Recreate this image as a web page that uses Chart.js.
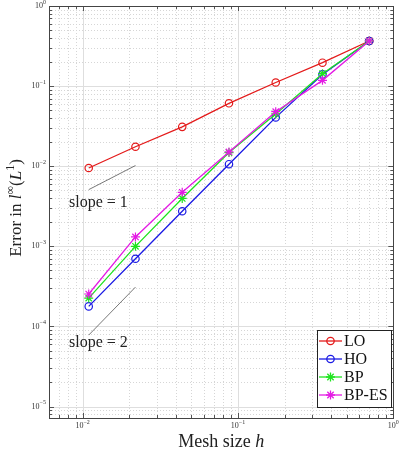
<!DOCTYPE html>
<html>
<head>
<meta charset="utf-8">
<script src="https://cdn.jsdelivr.net/npm/chart.js@4/dist/chart.umd.min.js"></script>
<style>
html,body{margin:0;padding:0;background:#fff;}
#wrap{width:399px;height:457px;}
</style>
</head>
<body>
<div id="wrap"><canvas id="errChart" width="399" height="457"></canvas></div>
<script>
const meshSize = [0.0109375, 0.021875, 0.04375, 0.0875, 0.175, 0.35, 0.7];
const errLO = [0.0095, 0.0175, 0.031, 0.061, 0.111, 0.196, 0.366];
const errHO = [1.78e-4, 7.0e-4, 2.74e-3, 0.0106, 0.0407, 0.14, 0.366];
const errBP = [2.26e-4, 1.0e-3, 3.96e-3, 0.0148, 0.045, 0.143, 0.366];
const errBPES = [2.54e-4, 1.31e-3, 4.73e-3, 0.0151, 0.048, 0.118, 0.366];

const slopeX = [0.0109375, 0.021875];
const slope1Y = [5.1e-3, 1.02e-2];
const slope2Y = [7.8e-5, 3.1e-4];

const xDecades = [-3, -2, -1, 0];
const yDecades = [-6, -5, -4, -3, -2, -1, 0];
const xTickExp = [-2, -1, 0];
const yTickExp = [-5, -4, -3, -2, -1, 0];

const serif = "'Liberation Serif', 'DejaVu Serif', serif";

function pts(xs, ys){
  return xs.map((x,i)=>({x:x, y:ys[i]}));
}

function drawStar(ctx, x, y, r){
  ctx.beginPath();
  for(let k=0;k<4;k++){
    const a = k*Math.PI/4;
    ctx.moveTo(x - r*Math.cos(a), y - r*Math.sin(a));
    ctx.lineTo(x + r*Math.cos(a), y + r*Math.sin(a));
  }
  ctx.stroke();
}

function drawPow(ctx, x, y, exp, align){
  // "10" with a raised exponent
  const base = "10";
  const sup = exp < 0 ? "\u2212" + (-exp) : String(exp);
  ctx.font = "8px " + serif;
  const wb = ctx.measureText(base).width;
  ctx.font = "6px " + serif;
  const ws = ctx.measureText(sup).width;
  let left = x;
  if(align==="right") left = x - wb - ws;
  if(align==="center") left = x - (wb+ws)/2;
  ctx.textAlign = "left";
  ctx.textBaseline = "middle";
  ctx.font = "8px " + serif;
  ctx.fillText(base, left, y);
  ctx.font = "6px " + serif;
  ctx.fillText(sup, left + wb, y - 4);
}

const series = [
  {label:"LO", data:errLO, color:"#e41b1b", style:"circle"},
  {label:"HO", data:errHO, color:"#1b1be4", style:"circle"},
  {label:"BP", data:errBP, color:"#1fe41f", style:"star"},
  {label:"BP-ES", data:errBPES, color:"#e41be4", style:"star"}
];

const gridPlugin = {
  id:"matlabGrid",
  beforeDraw(chart){
    const ctx = chart.ctx;
    ctx.save();
    ctx.fillStyle = "#fff";
    ctx.fillRect(0,0,chart.width,chart.height);
    ctx.restore();
  },
  beforeDatasetsDraw(chart){
    const {ctx, chartArea:a, scales:{x, y}} = chart;
    ctx.save();
    ctx.lineWidth = 1;
    // minor dotted
    ctx.strokeStyle = "#d6d6d6";
    ctx.setLineDash([1,2]);
    xDecades.forEach(d=>{
      for(let m=2;m<=9;m++){
        const px = Math.round(x.getPixelForValue(m*Math.pow(10,d))) + 0.5;
        if(px<=a.left||px>=a.right) continue;
        ctx.beginPath(); ctx.moveTo(px,a.top); ctx.lineTo(px,a.bottom); ctx.stroke();
      }
    });
    yDecades.forEach(d=>{
      for(let m=2;m<=9;m++){
        const py = Math.round(y.getPixelForValue(m*Math.pow(10,d))) + 0.5;
        if(py<=a.top||py>=a.bottom) continue;
        ctx.beginPath(); ctx.moveTo(a.left,py); ctx.lineTo(a.right,py); ctx.stroke();
      }
    });
    // major solid
    ctx.setLineDash([]);
    ctx.strokeStyle = "#dedede";
    xTickExp.forEach(d=>{
      const px = Math.round(x.getPixelForValue(Math.pow(10,d))) + 0.5;
      if(px<=a.left||px>=a.right) return;
      ctx.beginPath(); ctx.moveTo(px,a.top); ctx.lineTo(px,a.bottom); ctx.stroke();
    });
    yTickExp.forEach(d=>{
      const py = Math.round(y.getPixelForValue(Math.pow(10,d))) + 0.5;
      if(py<=a.top||py>=a.bottom) return;
      ctx.beginPath(); ctx.moveTo(a.left,py); ctx.lineTo(a.right,py); ctx.stroke();
    });
    ctx.restore();
  },
  afterDatasetsDraw(chart){
    const {ctx, chartArea:a, scales:{x, y}} = chart;
    ctx.save();
    // ticks inward on all sides
    ctx.strokeStyle = "#555";
    ctx.lineWidth = 1;
    xDecades.forEach(d=>{
      for(let m=1;m<=9;m++){
        const px = Math.round(x.getPixelForValue(m*Math.pow(10,d))) + 0.5;
        if(px<a.left||px>a.right) continue;
        const len = m===1 ? 5 : 3;
        ctx.beginPath();
        ctx.moveTo(px,a.bottom); ctx.lineTo(px,a.bottom-len);
        ctx.moveTo(px,a.top); ctx.lineTo(px,a.top+len);
        ctx.stroke();
      }
    });
    yDecades.forEach(d=>{
      for(let m=1;m<=9;m++){
        const py = Math.round(y.getPixelForValue(m*Math.pow(10,d))) + 0.5;
        if(py<a.top||py>a.bottom) continue;
        const len = m===1 ? 5 : 3;
        ctx.beginPath();
        ctx.moveTo(a.left,py); ctx.lineTo(a.left+len,py);
        ctx.moveTo(a.right,py); ctx.lineTo(a.right-len,py);
        ctx.stroke();
      }
    });
    // axes box
    ctx.strokeStyle = "#444";
    ctx.strokeRect(Math.round(a.left)+0.5, Math.round(a.top)+0.5, Math.round(a.right-a.left), Math.round(a.bottom-a.top));

    // tick labels
    ctx.fillStyle = "#333";
    xTickExp.forEach(d=>{
      drawPow(ctx, x.getPixelForValue(Math.pow(10,d)), a.bottom+8, d, "center");
    });
    yTickExp.forEach(d=>{
      drawPow(ctx, a.left-3, y.getPixelForValue(Math.pow(10,d)), d, "right");
    });

    // axis titles
    ctx.fillStyle = "#222";
    ctx.textBaseline = "alphabetic";
    const t1 = "Mesh size ";
    ctx.font = "18px " + serif;
    const w1 = ctx.measureText(t1).width;
    ctx.font = "italic 18px " + serif;
    const w2 = ctx.measureText("h").width;
    const cx = (a.left+a.right)/2;
    ctx.textAlign = "left";
    ctx.font = "18px " + serif;
    ctx.fillText(t1, cx-(w1+w2)/2, 447);
    ctx.font = "italic 18px " + serif;
    ctx.fillText("h", cx-(w1+w2)/2+w1, 447);

    // y title, rotated
    const parts = [
      {t:"Error in ", f:"17px ", dy:0},
      {t:"l", f:"italic 17px ", dy:0},
      {t:"\u221e", f:"12px ", dy:-7},
      {t:"(", f:"17px ", dy:0},
      {t:"L", f:"italic 17px ", dy:0},
      {t:"1", f:"12px ", dy:-7},
      {t:")", f:"17px ", dy:0}
    ];
    let total = 0;
    parts.forEach(p=>{ ctx.font = p.f + serif; p.w = ctx.measureText(p.t).width; total += p.w; });
    ctx.translate(21, 208);
    ctx.rotate(-Math.PI/2);
    let px0 = -total/2;
    parts.forEach(p=>{
      ctx.font = p.f + serif;
      ctx.fillText(p.t, px0, p.dy);
      px0 += p.w;
    });
    ctx.setTransform(1,0,0,1,0,0);

    // slope labels
    ctx.font = "16px " + serif;
    ctx.textAlign = "left";
    ctx.textBaseline = "middle";
    ctx.fillText("slope = 1", 69, 203);
    ctx.fillText("slope = 2", 69, 343);

    // legend box
    const lx = 317, ly = 330, lw = 74, lh = 77;
    ctx.fillStyle = "#fff";
    ctx.fillRect(lx, ly, lw, lh);
    ctx.strokeStyle = "#222";
    ctx.lineWidth = 1;
    ctx.strokeRect(lx+0.5, ly+0.5, lw, lh);
    series.forEach((s,i)=>{
      const yy = ly + 11 + i*18;
      ctx.strokeStyle = s.color;
      ctx.lineWidth = 1.3;
      ctx.beginPath(); ctx.moveTo(lx+2, yy); ctx.lineTo(lx+25, yy); ctx.stroke();
      if(s.style==="circle"){
        ctx.beginPath(); ctx.arc(lx+13.5, yy, 3.7, 0, Math.PI*2); ctx.stroke();
      } else {
        drawStar(ctx, lx+13.5, yy, 4.5);
      }
      ctx.fillStyle = "#111";
      ctx.font = "16px " + serif;
      ctx.textAlign = "left";
      ctx.textBaseline = "middle";
      ctx.fillText(s.label, lx+27, yy+1);
    });
    ctx.restore();
  }
};

const datasets = series.map((s,i)=>({
  label:s.label,
  data:pts(meshSize, s.data),
  borderColor:s.color,
  backgroundColor:"rgba(0,0,0,0)",
  borderWidth:1.3,
  pointStyle:s.style,
  pointRadius:s.style==="circle" ? 3.7 : 4.5,
  pointBorderWidth:1.2,
  pointBorderColor:s.color,
  pointBackgroundColor:"rgba(0,0,0,0)",
  order:series.length - i
}));

datasets.push({
  label:"slope1",
  data:pts(slopeX, slope1Y),
  borderColor:"#555",
  borderWidth:0.8,
  pointRadius:0,
  order:10
});
datasets.push({
  label:"slope2",
  data:pts(slopeX, slope2Y),
  borderColor:"#555",
  borderWidth:0.8,
  pointRadius:0,
  order:10
});

new Chart(document.getElementById("errChart"),{
  type:"line",
  data:{datasets:datasets},
  options:{
    responsive:false,
    animation:false,
    layout:{padding:{left:49, right:2, top:6, bottom:39}},
    plugins:{legend:{display:false}, tooltip:{enabled:false}},
    scales:{
      x:{type:"logarithmic", min:0.00607, max:1.0, display:false},
      y:{type:"logarithmic", min:7.2e-6, max:1.0, display:false}
    }
  },
  plugins:[gridPlugin]
});
</script>
</body>
</html>
